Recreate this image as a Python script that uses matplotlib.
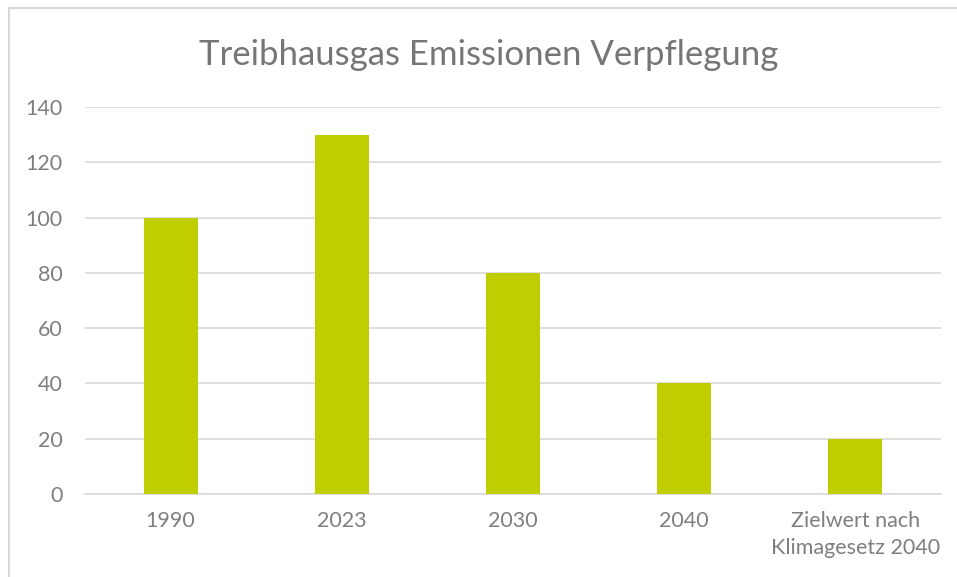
import matplotlib
matplotlib.use("Agg")
import matplotlib.pyplot as plt
from matplotlib.patches import Rectangle

categories = ["1990", "2023", "2030", "2040", "Zielwert nach\nKlimagesetz 2040"]
values = [100, 130, 80, 40, 20]
yticks = [0, 20, 40, 60, 80, 100, 120, 140]
title = "Treibhausgas Emissionen Verpflegung"

plt.rcParams['font.family'] = ['Lato', 'DejaVu Sans']
W, H = 957, 577
fig = plt.figure(figsize=(W/100, H/100), dpi=100)
fig.patch.set_facecolor('white')

# outer chart border
fig.add_artist(Rectangle((9/W, -0.1), 1.2, (H - 8)/H + 0.1, transform=fig.transFigure,
                         fill=False, edgecolor='#D9D9D9', linewidth=1.5))

ax = fig.add_axes([85/W, (H-494)/H, (941-85)/W, (494-107)/H])
x = range(len(categories))
ax.bar(x, values, width=0.316, color='#C0CD00', zorder=3)
ax.set_xlim(-0.5, len(categories) - 0.5)
ax.set_ylim(0, 140)
ax.set_yticks(yticks)
ax.set_yticklabels([str(v) for v in yticks])
ax.set_xticks(list(x))
ax.set_xticklabels(categories, linespacing=1.45)
ax.yaxis.grid(True, color='#D9D9D9', linewidth=1.2, zorder=0)
for s in ['top', 'right', 'left']:
    ax.spines[s].set_visible(False)
ax.spines['bottom'].set_color('#D9D9D9')
ax.spines['bottom'].set_linewidth(1.2)
ax.tick_params(axis='both', length=0, colors='#7F7F7F', labelsize=15.5)
ax.tick_params(axis='y', pad=16)
ax.tick_params(axis='x', pad=12)
ax.set_facecolor('none')

fig.text(489/W, 1 - 55/H, title, ha='center', va='center', fontsize=25,
         color='#767676', fontweight='normal')

fig.savefig("out.png", dpi=100, facecolor='white')
